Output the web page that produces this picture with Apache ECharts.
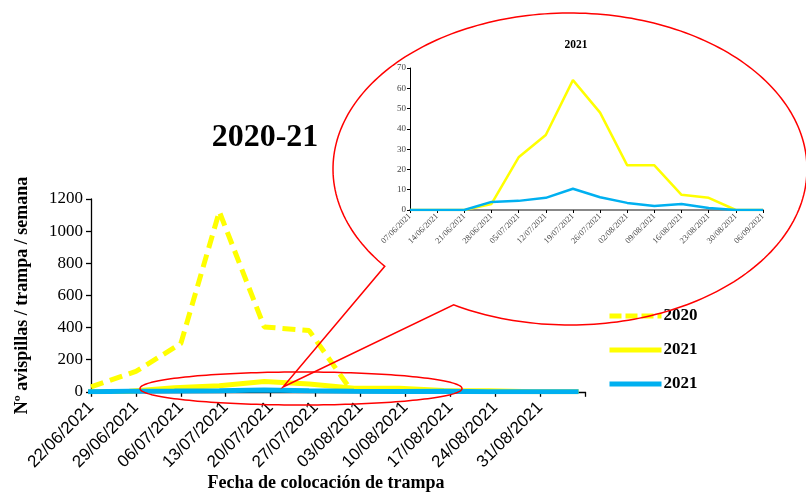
<!DOCTYPE html>
<html><head><meta charset="utf-8">
<script src="https://cdn.jsdelivr.net/npm/echarts@6/dist/echarts.min.js"></script>
<style>html,body{margin:0;padding:0;background:#fff}#c{width:806px;height:493px}</style>
</head><body><div id="c"></div>
<script>
// ---- data ----
const mainTickLabels = ['22/06/2021','29/06/2021','06/07/2021','13/07/2021','20/07/2021','27/07/2021','03/08/2021','10/08/2021','17/08/2021','24/08/2021','31/08/2021'];
const mainAxisStart = '22/06/2021';
const mainAxisEnd = '07/09/2021';
const yTicksMain = [0, 200, 400, 600, 800, 1000, 1200];
const dates2020 = ['22/06/2021','29/06/2021','06/07/2021','12/07/2021','19/07/2021','26/07/2021','01/08/2021'];
const values2020 = [30, 127, 300, 1122, 404, 381, 41];
const insetDates = ['07/06/2021','14/06/2021','21/06/2021','28/06/2021','05/07/2021','12/07/2021','19/07/2021','26/07/2021','02/08/2021','09/08/2021','16/08/2021','23/08/2021','30/08/2021','06/09/2021'];
const yellow2021 = [0, 0, 0, 3, 26, 37, 64, 48, 22, 22, 7.5, 6, 0, 0];
const blue2021 = [0, 0, 0, 4, 4.5, 6, 10.5, 6.3, 3.5, 2, 3, 1, 0, 0];
const yTicksInset = [0, 10, 20, 30, 40, 50, 60, 70];
const seriesNames = ['2020', '2021', '2021'];
const mainTitle = '2020-21';
const insetTitle = '2021';
const xName = 'Fecha de colocación de trampa';
const yName = 'Nº avispillas / trampa / semana';

// ---- helpers ----
function dayNum(s){const [d,m,y]=s.split('/').map(Number);return Date.UTC(y,m-1,d)/864e5;}
const d0 = dayNum(mainAxisStart);
const off = s => dayNum(s) - d0;
const legendKeys = seriesNames.map((n,i)=> n + '\u200b'.repeat(i));
function ellipsePts(cx,cy,rx,ry,a0,a1,n){const p=[];for(let i=0;i<=n;i++){const a=(a0+(a1-a0)*i/n)*Math.PI/180;p.push([cx+rx*Math.cos(a),cy+ry*Math.sin(a)]);}return p;}

const SERIF = 'Liberation Serif';
const SANS = 'Liberation Sans';
const YELLOW = '#ffff00', BLUE = '#00b0f0';

const chart = echarts.init(document.getElementById('c'), null, {renderer:'canvas'});
const span = off(mainAxisEnd);
chart.setOption({
  animation: false,
  backgroundColor: '#fff',
  legend: {
    orient: 'vertical', left: 607, top: 307, padding: 0,
    itemWidth: 52, itemHeight: 18, itemGap: 16,
    itemStyle: {opacity: 0},
    lineStyle: {width: 5},
    data: [
      {name: legendKeys[0], lineStyle: {type: [12, 4], width: 5}},
      {name: legendKeys[1]},
      {name: legendKeys[2]}
    ],
    formatter: n => n.replace(/\u200b/g, ''),
    textStyle: {fontFamily: SERIF, fontWeight: 'bold', fontSize: 17, color: '#000', lineHeight: 18, padding: [0,0,0,-3]}
  },
  grid: [
    {left: 91, right: 221, top: 199, bottom: 99, containLabel: false},
    {left: 410, right: 43, top: 68, bottom: 283, containLabel: false}
  ],
  xAxis: [
    {
      gridIndex: 0, type: 'value', min: 0, max: span, interval: 7,
      name: xName, nameLocation: 'middle', nameGap: 82,
      nameTextStyle: {fontFamily: SERIF, fontWeight: 'bold', fontSize: 18, color: '#000', padding: [0, 24, 0, 0]},
      axisLine: {show: true, lineStyle: {color: '#000', width: 1.3}},
      axisTick: {show: true, length: 5, lineStyle: {color: '#000', width: 1.3}},
      splitLine: {show: false},
      axisLabel: {
        rotate: 45, margin: 13, fontFamily: SANS, fontSize: 17, color: '#000',
        showMaxLabel: true, showMinLabel: true,
        formatter: v => mainTickLabels[Math.round(v/7)] || ''
      }
    },
    {
      gridIndex: 1, type: 'category', data: insetDates, boundaryGap: false,
      axisLine: {show: true, lineStyle: {color: '#888', width: 2}},
      axisTick: {show: true, length: 3, alignWithLabel: true, lineStyle: {color: '#000', width: 1}},
      axisLabel: {rotate: 45, margin: 5, fontFamily: SERIF, fontSize: 8.5, color: '#444', interval: 0},
      splitLine: {show: false}
    }
  ],
  yAxis: [
    {
      gridIndex: 0, type: 'value', min: yTicksMain[0], max: yTicksMain[yTicksMain.length-1], interval: 200,
      name: yName, nameLocation: 'middle', nameGap: 60, nameRotate: 90,
      nameTextStyle: {fontFamily: SERIF, fontWeight: 'bold', fontSize: 18, color: '#000'},
      axisLine: {show: true, lineStyle: {color: '#000', width: 1.3}},
      axisTick: {show: true, length: 5, lineStyle: {color: '#000', width: 1.3}},
      splitLine: {show: false},
      axisLabel: {margin: 8, fontFamily: SERIF, fontSize: 17, color: '#000', formatter: v => String(v)}
    },
    {
      gridIndex: 1, type: 'value', min: yTicksInset[0], max: yTicksInset[yTicksInset.length-1], interval: 10,
      axisLine: {show: true, lineStyle: {color: '#000', width: 1}},
      axisTick: {show: true, length: 3, lineStyle: {color: '#000', width: 1}},
      splitLine: {show: false},
      axisLabel: {margin: 4, fontFamily: SERIF, fontSize: 9, color: '#444'}
    }
  ],
  series: [
    {
      name: legendKeys[0], type: 'line', xAxisIndex: 0, yAxisIndex: 0, symbol: 'none', clip: true,
      data: dates2020.map((d,i)=>[off(d), values2020[i]]),
      lineStyle: {color: YELLOW, width: 5, type: [13, 7], cap: 'butt'}, itemStyle: {color: YELLOW}
    },
    {
      name: legendKeys[1], type: 'line', xAxisIndex: 0, yAxisIndex: 0, symbol: 'none', clip: true,
      data: insetDates.map((d,i)=>[off(d), yellow2021[i]]),
      lineStyle: {color: YELLOW, width: 5}, itemStyle: {color: YELLOW}
    },
    {
      name: legendKeys[2], type: 'line', xAxisIndex: 0, yAxisIndex: 0, symbol: 'none', clip: true,
      data: insetDates.map((d,i)=>[off(d), blue2021[i]]),
      lineStyle: {color: BLUE, width: 5}, itemStyle: {color: BLUE}
    },
    {
      name: 'inset-yellow', type: 'line', xAxisIndex: 1, yAxisIndex: 1, symbol: 'none',
      data: yellow2021, lineStyle: {color: YELLOW, width: 2.5}, itemStyle: {color: YELLOW}
    },
    {
      name: 'inset-blue', type: 'line', xAxisIndex: 1, yAxisIndex: 1, symbol: 'none',
      data: blue2021, lineStyle: {color: BLUE, width: 2.5}, itemStyle: {color: BLUE}
    }
  ],
  graphic: [
    {type: 'polygon', silent: true, z: 10,
     shape: {points: ellipsePts(570, 169, 237, 156, 141.4, 479.4, 240).concat([[283, 387]])},
     style: {fill: 'none', stroke: '#ff0000', lineWidth: 1.5}},
    {type: 'polygon', silent: true, z: 10,
     shape: {points: ellipsePts(301, 388.5, 161, 16.5, 0, 360, 180)},
     style: {fill: 'none', stroke: '#ff0000', lineWidth: 1.5}},
    {type: 'text', x: 265, y: 138, silent: true,
     style: {text: mainTitle, align: 'center', verticalAlign: 'middle', fontFamily: SERIF, fontWeight: 'bold', fontSize: 32, fill: '#000'}},
    {type: 'text', x: 576, y: 45, silent: true,
     style: {text: insetTitle, align: 'center', verticalAlign: 'middle', fontFamily: SERIF, fontWeight: 'bold', fontSize: 11.5, fill: '#000'}}
  ]
});
</script></body></html>
